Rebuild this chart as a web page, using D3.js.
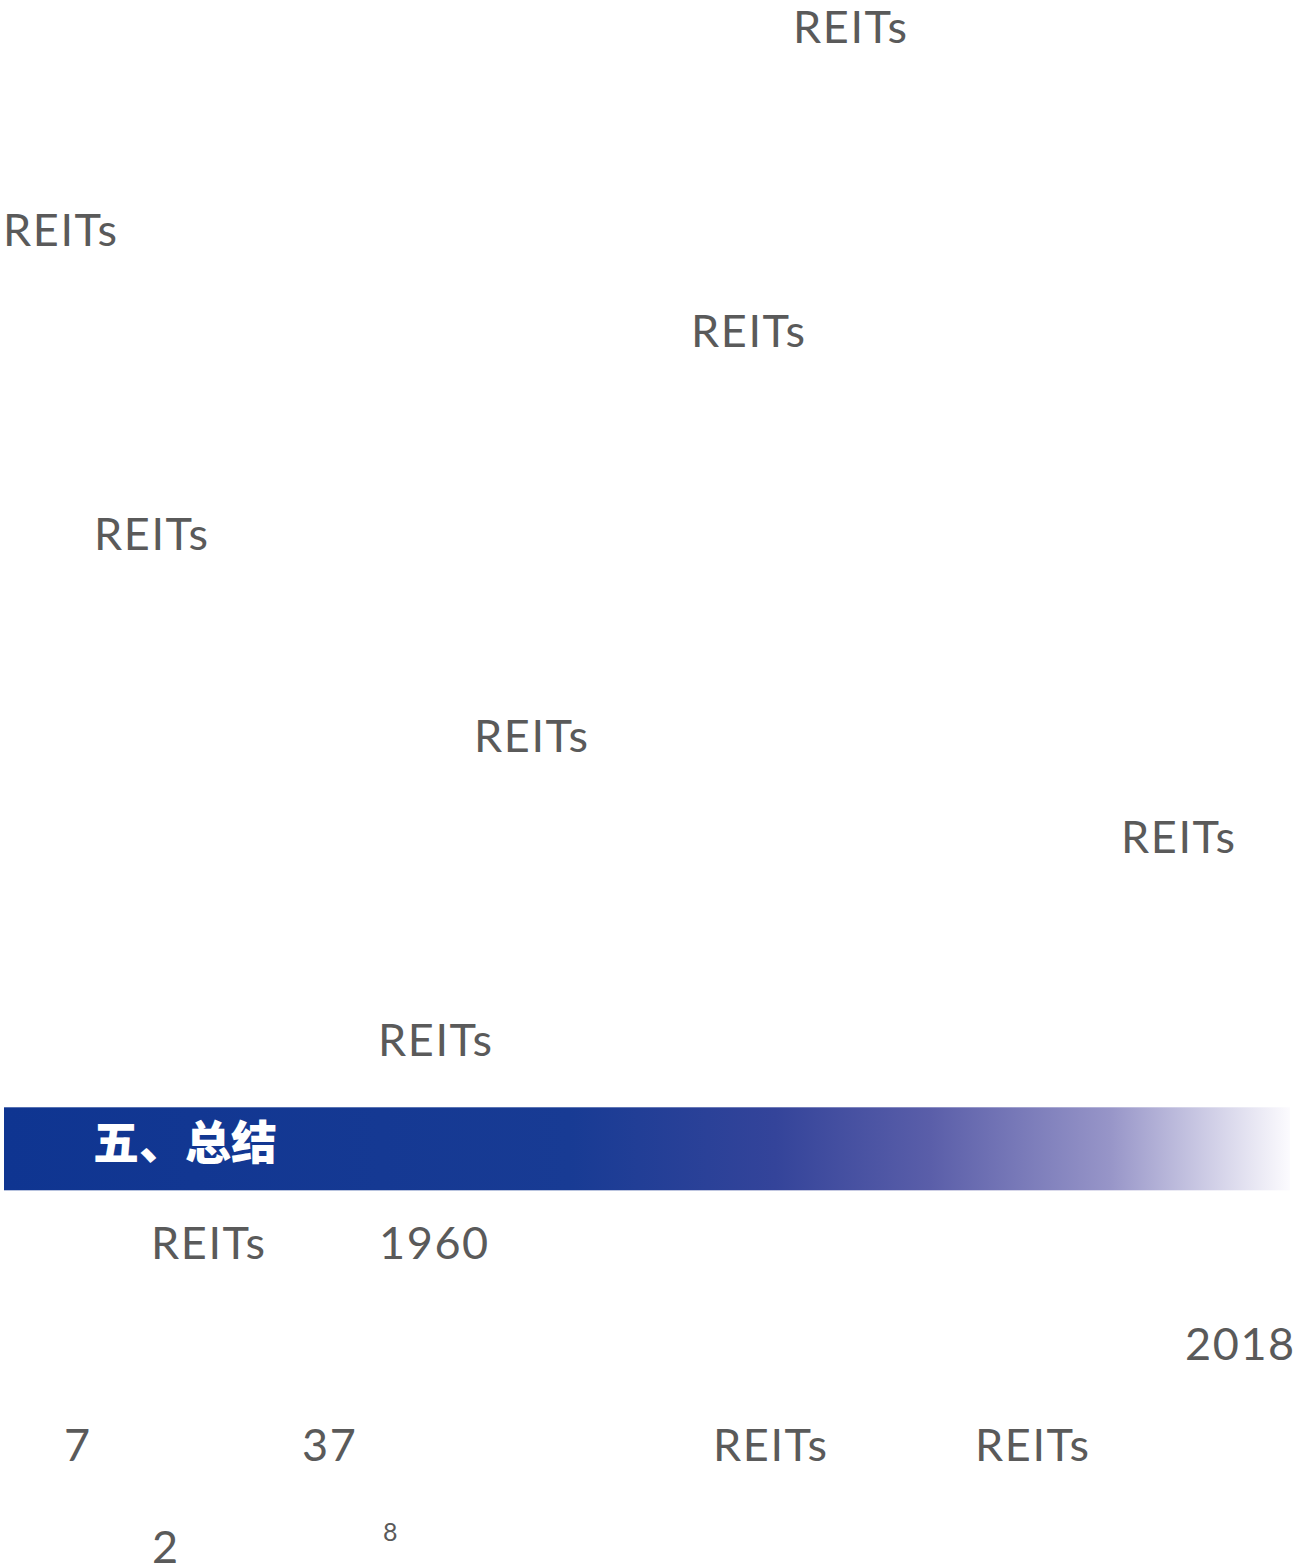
<!DOCTYPE html>
<html>
<head>
<meta charset="utf-8">
<script src="https://cdn.jsdelivr.net/npm/d3@7"></script>
<style>
  html, body { margin: 0; padding: 0; background: #fff; }
</style>
</head>
<body>
<div id="vis"></div>
<script>
// text runs that survived on the page: which line, where it starts, what it says
const lineNo = [0, 2, 3, 5, 7, 8, 10, 12, 12, 13, 14, 14, 14, 14, 15];
const colPos = [793, 3, 691, 94, 474, 1121, 378, 151, 379, 1185, 64, 302, 713, 975, 152];
const words  = ["REITs", "REITs", "REITs", "REITs", "REITs", "REITs", "REITs",
                "REITs", "1960", "2018", "7", "37", "REITs", "REITs", "2"];

// footnote marks
const noteLine = [15];
const noteCol  = [383];
const noteText = ["8"];

// section heading banner
const headLine = 11;
const headText = "五、总结";

function drawPage(id) {
  var W = 1309, H = 1568;

  d3.select(id).select("svg").remove();
  var svg = d3.select(id).append("svg")
      .attr("width", W)
      .attr("height", H);

  // baseline of each text line
  var y = d3.scaleLinear().domain([0, 1]).range([43, 144.3]);
  var x = d3.scaleLinear().domain([0, W]).range([0, W]);

  // gradient for heading banner
  var grad = svg.append("defs").append("linearGradient")
      .attr("id", "bannerGrad")
      .attr("x1", "0%").attr("x2", "100%")
      .attr("y1", "0%").attr("y2", "0%");
  [
    [0, "#0f3591"], [0.44, "#183b94"], [0.60, "#34449a"],
    [0.72, "#5a5ea9"], [0.86, "#9795c8"], [1, "#fcfbfe"]
  ].forEach(function(s) {
    grad.append("stop").attr("offset", s[0]).attr("stop-color", s[1]);
  });

  var bandTop = y(headLine) - 50;
  svg.append("rect")
      .attr("x", 4)
      .attr("y", bandTop)
      .attr("width", 1286)
      .attr("height", 83)
      .attr("fill", "url(#bannerGrad)");

  svg.append("text")
      .attr("x", x(93))
      .attr("y", y(headLine) + 2)
      .attr("font-family", "'Noto Sans CJK SC', sans-serif")
      .attr("font-weight", 900)
      .attr("font-size", 46)
      .attr("fill", "#fff")
      .text(headText);

  // body text
  svg.append("g").selectAll("text")
    .data(words)
    .join("text")
      .attr("x", function(d, i) { return x(colPos[i]); })
      .attr("y", function(d, i) { return y(lineNo[i]); })
      .attr("font-family", "Lato, sans-serif")
      .attr("font-size", 45)
      .attr("letter-spacing", 1.6)
      .attr("fill", "#5a5a5a")
      .text(function(d) { return d; });

  // superscript note numbers
  svg.append("g").selectAll("text")
    .data(noteText)
    .join("text")
      .attr("x", function(d, i) { return x(noteCol[i]); })
      .attr("y", function(d, i) { return y(noteLine[i]) - 22; })
      .attr("font-family", "Lato, sans-serif")
      .attr("font-size", 25)
      .attr("fill", "#5a5a5a")
      .text(function(d) { return d; });
}

drawPage("#vis");
</script>
</body>
</html>
